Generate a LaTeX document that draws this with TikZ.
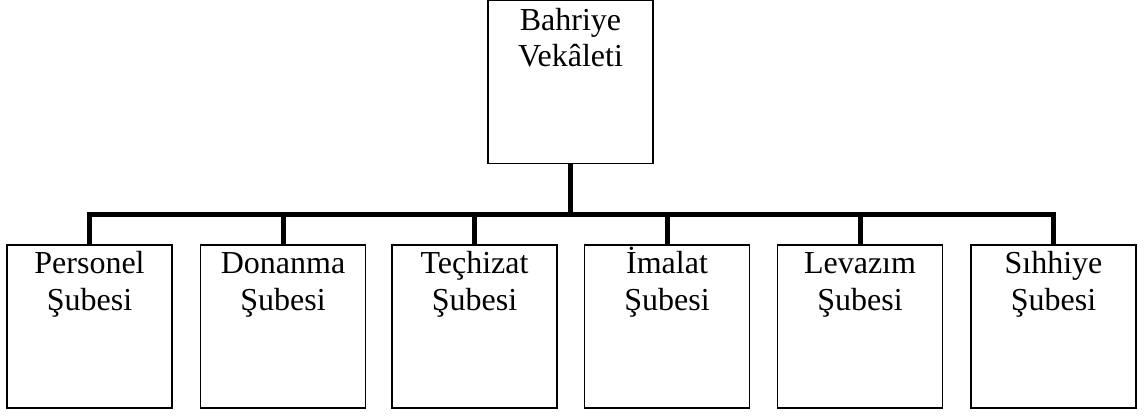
\documentclass[tikz,border=0pt]{standalone}
\usepackage{fontspec}
\setmainfont{Liberation Serif}
\begin{document}
\begin{tikzpicture}[x=1pt,y=-1pt,
  box/.style={draw, line width=1.3pt, minimum width=165pt, minimum height=163pt, inner sep=0pt},
  lbl/.style={anchor=base, align=center, inner sep=0pt, font=\fontsize{32}{36.5}\selectfont},
  conn/.style={line width=5pt}]
\useasboundingbox (0,0) rectangle (1147,415);
\node[box] (top) at (570.5,82) {};
\node[lbl] (tl) at ([yshift=-67pt]top.north) {Bahriye\\Vekâleti};
\node[box] (b1) at (89.5,326.5) {};
\node[box] (b2) at (283,326.5) {};
\node[box] (b3) at (474.5,326.5) {};
\node[box] (b4) at (667,326.5) {};
\node[box] (b5) at (860,326.5) {};
\node[box] (b6) at (1053.5,326.5) {};
\node[lbl] (l1) at ([yshift=-66pt]b1.north) {Personel\\Şubesi};
\node[lbl] (l2) at ([yshift=-66pt]b2.north) {Donanma\\Şubesi};
\node[lbl] (l3) at ([yshift=-66pt]b3.north) {Teçhizat\\Şubesi};
\node[lbl] (l4) at ([yshift=-66pt]b4.north) {İmalat\\Şubesi};
\node[lbl] (l5) at ([yshift=-66pt]b5.north) {Levazım\\Şubesi};
\node[lbl] (l6) at ([yshift=-66pt]b6.north) {Sıhhiye\\Şubesi};
\coordinate (bus) at (0,214);
\draw[conn] (top.south) -- (top.south |- bus);
\draw[conn] (b1.north) -- (b1.north |- bus) -- (b6.north |- bus) -- (b6.north);
\foreach \b in {b2,b3,b4,b5} \draw[conn] (\b.north) -- (\b.north |- bus);
\end{tikzpicture}
\end{document}
